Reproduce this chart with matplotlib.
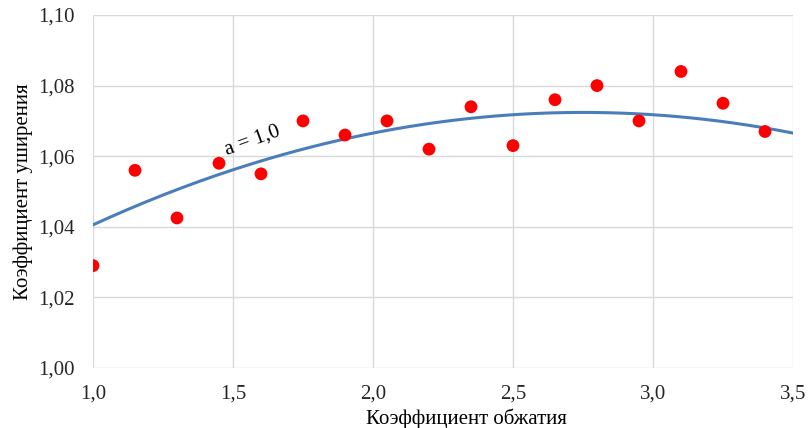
import numpy as np
import matplotlib.pyplot as plt
from matplotlib.ticker import FuncFormatter

plt.rcParams['font.family'] = ['Liberation Serif', 'DejaVu Serif']

# коэффициент обжатия / коэффициент уширения
x = [1.0, 1.15, 1.3, 1.45, 1.6, 1.75, 1.9, 2.05, 2.2, 2.35, 2.5, 2.65, 2.8, 2.95, 3.1, 3.25, 3.4]
y = [1.029, 1.056, 1.0425, 1.058, 1.055, 1.070, 1.066, 1.070, 1.062, 1.074, 1.063,
     1.076, 1.080, 1.070, 1.084, 1.075, 1.067]

# 2nd order trend line coefficients
trend_coef = [-0.0104, 0.0572, 0.99375]
trend_label = 'a = 1,0'

xt = np.linspace(1.0, 3.5, 200)
yt = np.polyval(trend_coef, xt)

fig = plt.figure(figsize=(8.09, 4.28), dpi=100)
ax = fig.add_axes([93/809, 60/428, 700/809, 353/428])

ax.plot(xt, yt, color='#4a7ebb', linewidth=2.2, zorder=2)
ax.scatter(x, y, s=85, color='#ff0000', edgecolors='none', zorder=3)

ax.set_xlim(1.0, 3.5)
ax.set_ylim(1.0, 1.1)
ax.set_xticks(np.arange(1.0, 3.51, 0.5))
ax.set_yticks(np.arange(1.0, 1.101, 0.02))
ax.xaxis.set_major_formatter(FuncFormatter(lambda v, p: f'{v:.1f}'.replace('.', ',')))
ax.yaxis.set_major_formatter(FuncFormatter(lambda v, p: f'{v:.2f}'.replace('.', ',')))
ax.grid(True, color='#d9d9d9', linewidth=1)
ax.set_axisbelow(True)
for s in ax.spines.values():
    s.set_visible(False)
ax.tick_params(length=0, labelsize=15, colors='#262626')
ax.tick_params(axis='y', pad=13)
ax.tick_params(axis='x', pad=12)

ax.set_xlabel('Коэффициент обжатия', fontsize=15, labelpad=0)
ax.xaxis.set_label_coords(0.533, -0.115)
ax.set_ylabel('Коэффициент уширения', fontsize=15, labelpad=4)

ax.text(1.568, 1.0644, trend_label, fontsize=15, rotation=20, ha='center', va='center')

fig.savefig('out.png', dpi=100)
